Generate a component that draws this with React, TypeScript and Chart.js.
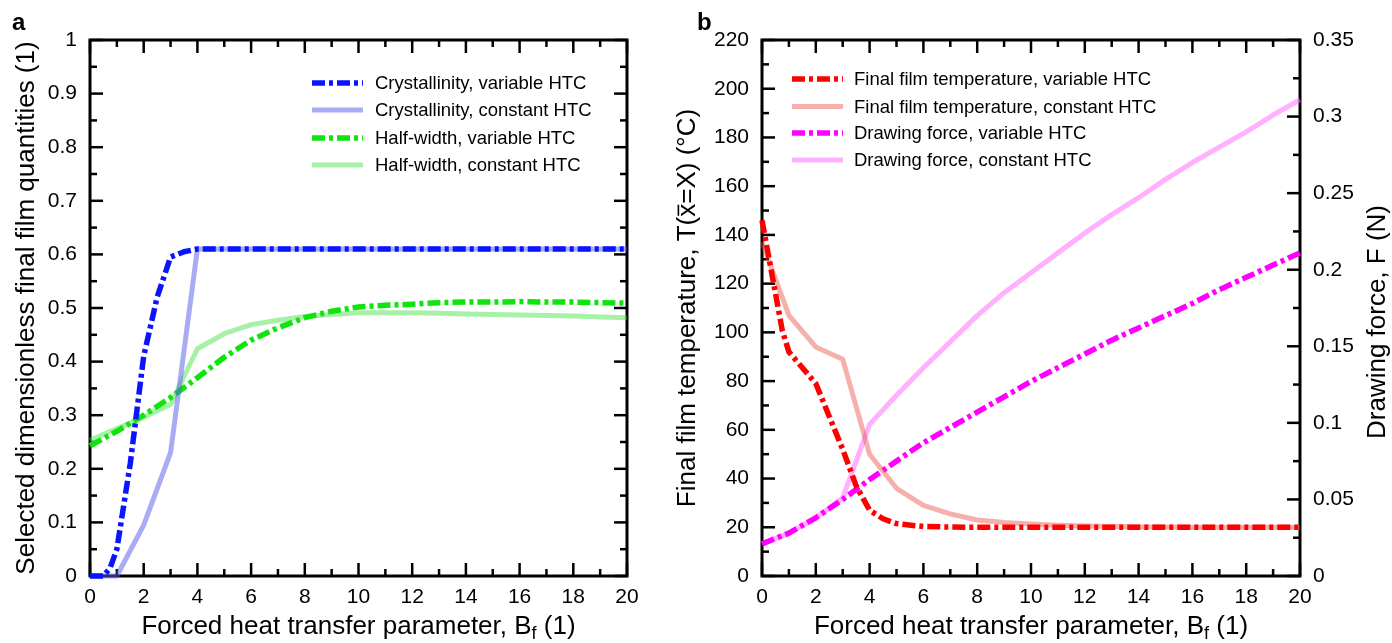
import React, { useEffect, useRef } from "react";
import { Chart, registerables } from "chart.js";

Chart.register(...registerables);

const FONT = "'Liberation Sans', Arial, Helvetica, sans-serif";

// ---------- Panel a data ----------
const crystVarB = [0, 0.5, 0.75, 1, 1.5, 2, 2.5, 3, 3.5, 4, 5, 6, 7, 8, 9, 10, 11, 12, 13, 14, 15, 16, 17, 18, 19, 20];
const crystVar = [0, 0, 0.015, 0.05, 0.21, 0.41, 0.52, 0.595, 0.605, 0.61, 0.61, 0.61, 0.61, 0.61, 0.61, 0.61, 0.61, 0.61, 0.61, 0.61, 0.61, 0.61, 0.61, 0.61, 0.61, 0.61];
const bInt = [0, 1, 2, 3, 4, 5, 6, 7, 8, 9, 10, 11, 12, 13, 14, 15, 16, 17, 18, 19, 20];
const crystConst = [0, 0, 0.095, 0.23, 0.61, 0.61, 0.61, 0.61, 0.61, 0.61, 0.61, 0.61, 0.61, 0.61, 0.61, 0.61, 0.61, 0.61, 0.61, 0.61, 0.61];
const halfVar = [0.243, 0.27, 0.3, 0.333, 0.37, 0.408, 0.44, 0.463, 0.482, 0.494, 0.502, 0.505, 0.507, 0.51, 0.511, 0.511, 0.512, 0.511, 0.511, 0.51, 0.509];
const halfConst = [0.253, 0.275, 0.296, 0.32, 0.424, 0.452, 0.469, 0.477, 0.484, 0.488, 0.491, 0.491, 0.491, 0.49, 0.489, 0.488, 0.487, 0.486, 0.485, 0.483, 0.482];

// ---------- Panel b data ----------
const tempVarB = [0, 0.25, 0.5, 0.75, 1, 1.5, 2, 2.5, 3, 3.5, 4, 4.5, 5, 6, 7, 8, 9, 10, 11, 12, 13, 14, 15, 16, 17, 18, 19, 20];
const tempVar = [146, 131, 116, 101, 92, 85.5, 79, 65.5, 52, 37, 27, 23.5, 21.5, 20.3, 20.1, 20, 20, 20, 20, 20, 20, 20, 20, 20, 20, 20, 20, 20];
const tempConst = [137, 107, 94, 89, 50, 36, 29, 25.5, 23, 22, 21.3, 20.8, 20.5, 20.3, 20.2, 20.1, 20, 20, 20, 20, 20];
const forceVar = [0.021, 0.028, 0.038, 0.05, 0.063, 0.075, 0.087, 0.097, 0.107, 0.117, 0.127, 0.136, 0.145, 0.154, 0.162, 0.17, 0.178, 0.187, 0.195, 0.203, 0.211];
const forceConst = [0.021, 0.028, 0.038, 0.051, 0.099, 0.118, 0.136, 0.153, 0.17, 0.185, 0.198, 0.211, 0.224, 0.236, 0.247, 0.259, 0.27, 0.28, 0.29, 0.301, 0.311];

const labelsA = ["Crystallinity, variable HTC", "Crystallinity, constant HTC", "Half-width, variable HTC", "Half-width, constant HTC"];
const labelsB = ["Final film temperature, variable HTC", "Final film temperature, constant HTC", "Drawing force, variable HTC", "Drawing force, constant HTC"];

const DASH = [13, 4, 4, 4];
const TITLE_SIZE = 26;
const pts = (xs: number[], ys: number[]) => xs.map((x, i) => ({ x, y: ys[i] }));

type Seg = { t: string; size?: number; dy?: number; over?: boolean };

function drawRich(ctx: CanvasRenderingContext2D, segs: Seg[], cx: number, cy: number, rot: number, base: number) {
  ctx.save();
  ctx.translate(cx, cy);
  ctx.rotate(rot);
  ctx.textBaseline = "middle";
  ctx.textAlign = "left";
  ctx.fillStyle = "#000";
  ctx.strokeStyle = "#000";
  let total = 0;
  const ws = segs.map((s) => {
    ctx.font = `${s.size || base}px ${FONT}`;
    const w = ctx.measureText(s.t).width;
    total += w;
    return w;
  });
  let x = -total / 2;
  segs.forEach((s, i) => {
    ctx.font = `${s.size || base}px ${FONT}`;
    ctx.fillText(s.t, x, s.dy || 0);
    if (s.over) {
      ctx.beginPath();
      ctx.lineWidth = 1.6;
      const yy = -base * 0.37;
      ctx.moveTo(x + 1, yy);
      ctx.lineTo(x + ws[i] - 1, yy);
      ctx.stroke();
    }
    x += ws[i];
  });
  ctx.restore();
}

function tickMarks(ctx: CanvasRenderingContext2D, scale: any, step: number, majorEvery: number, horizontal: boolean, edge: number, dir: number) {
  const n = Math.round((scale.max - scale.min) / step);
  for (let i = 0; i <= n; i++) {
    const v = scale.min + i * step;
    const p = scale.getPixelForValue(v);
    const len = i % majorEvery === 0 ? 13 : 7;
    ctx.beginPath();
    if (horizontal) {
      ctx.moveTo(p, edge);
      ctx.lineTo(p, edge + dir * len);
    } else {
      ctx.moveTo(edge, p);
      ctx.lineTo(edge + dir * len, p);
    }
    ctx.stroke();
  }
}

const framePlugin = {
  id: "frameTicks",
  beforeDatasetsDraw(chart: any, _args: any, opts: any) {
    const { ctx, chartArea } = chart;
    const { left, right, top, bottom } = chartArea;
    ctx.save();
    ctx.strokeStyle = "#000";
    ctx.lineWidth = 2.5;
    ctx.setLineDash([]);
    const x = chart.scales.x;
    tickMarks(ctx, x, 1, 2, true, bottom, -1);
    tickMarks(ctx, x, 1, 2, true, top, 1);
    const yl = chart.scales.y;
    tickMarks(ctx, yl, opts.leftStep, 2, false, left, 1);
    const yr = opts.rightId ? chart.scales[opts.rightId] : yl;
    tickMarks(ctx, yr, opts.rightStep, 2, false, right, -1);
    ctx.lineWidth = 3;
    ctx.strokeRect(left, top, right - left, bottom - top);
    ctx.restore();
  },
  afterDraw(chart: any, _args: any, opts: any) {
    const { ctx, chartArea } = chart;
    const { left, right, top, bottom } = chartArea;
    const midX = (left + right) / 2;
    const midY = (top + bottom) / 2;
    // axis titles
    drawRich(ctx, [
      { t: "Forced heat transfer parameter, B" },
      { t: "f", size: 18, dy: 7 },
      { t: " (1)" },
    ], midX, 627, 0, TITLE_SIZE);
    drawRich(ctx, opts.leftTitle, opts.leftTitleX, midY, -Math.PI / 2, TITLE_SIZE);
    if (opts.rightTitle) drawRich(ctx, opts.rightTitle, opts.rightTitleX, opts.rightTitleY, -Math.PI / 2, TITLE_SIZE);
    // panel letter
    ctx.save();
    ctx.font = `bold 24px ${FONT}`;
    ctx.fillStyle = "#000";
    ctx.textBaseline = "alphabetic";
    ctx.textAlign = "left";
    ctx.fillText(opts.letter, opts.letterX, 30);
    ctx.restore();
    // legend
    ctx.save();
    chart.data.datasets.forEach((ds: any, i: number) => {
      const y = opts.legendRows[i];
      ctx.beginPath();
      ctx.strokeStyle = ds.borderColor;
      ctx.lineWidth = ds.borderWidth;
      ctx.setLineDash(ds.borderDash || []);
      ctx.moveTo(opts.legendX0, y);
      ctx.lineTo(opts.legendX1, y);
      ctx.stroke();
      ctx.setLineDash([]);
      ctx.font = `18.5px ${FONT}`;
      ctx.fillStyle = "#000";
      ctx.textBaseline = "middle";
      ctx.textAlign = "left";
      ctx.fillText(ds.label, opts.legendTx, y + 1);
    });
    ctx.restore();
  },
};

const tickFont = { size: 21, family: FONT };

function xScale() {
  return {
    type: "linear",
    min: 0,
    max: 20,
    ticks: { stepSize: 2, font: tickFont, color: "#000", padding: 9, maxRotation: 0, autoSkip: false },
    grid: { display: false, drawTicks: false },
    border: { display: false },
    afterFit: (s: any) => {
      s.height = 67;
    },
  };
}

const fmt = (v: any) => String(Number(Number(v).toFixed(3)));

function lineDs(label: string, data: any[], color: string, dashed: boolean, yAxisID = "y") {
  return {
    label,
    data,
    yAxisID,
    borderColor: color,
    backgroundColor: color,
    borderWidth: dashed ? 5.5 : 5,
    borderDash: dashed ? DASH : [],
    pointRadius: 0,
    fill: false,
    tension: 0,
    clip: 8,
    borderCapStyle: "butt",
    borderJoinStyle: "round",
  };
}

function makeA(canvas: HTMLCanvasElement) {
  const datasets = [
    lineDs(labelsA[0], pts(crystVarB, crystVar), "rgb(10,20,255)", true),
    lineDs(labelsA[1], pts(bInt, crystConst), "rgba(80,90,235,0.5)", false),
    lineDs(labelsA[2], pts(bInt, halfVar), "rgb(15,228,15)", true),
    lineDs(labelsA[3], pts(bInt, halfConst), "rgba(60,225,60,0.45)", false),
  ];
  return new Chart(canvas, {
    type: "line",
    data: { datasets },
    plugins: [framePlugin],
    options: {
      animation: false,
      responsive: false,
      layout: { padding: { left: 0, top: 40, right: 43, bottom: 0 } },
      plugins: {
        legend: { display: false },
        tooltip: { enabled: false },
        frameTicks: {
          leftStep: 0.05,
          rightStep: 0.05,
          leftTitle: [{ t: "Selected dimensionless final film quantities (1)" }],
          leftTitleX: 27,
          letter: "a",
          letterX: 12,
          legendRows: [83, 110, 138, 165],
          legendX0: 312,
          legendX1: 363,
          legendTx: 375,
        },
      },
      scales: {
        x: xScale(),
        y: {
          type: "linear",
          min: 0,
          max: 1,
          ticks: { stepSize: 0.1, font: tickFont, color: "#000", padding: 13, callback: fmt },
          grid: { display: false, drawTicks: false },
          border: { display: false },
          afterFit: (s: any) => {
            s.width = 90;
          },
        },
      },
    },
  } as any);
}

function makeB(canvas: HTMLCanvasElement) {
  const datasets = [
    lineDs(labelsB[0], pts(tempVarB, tempVar), "rgb(255,0,0)", true),
    lineDs(labelsB[1], pts(bInt, tempConst), "rgba(235,80,70,0.45)", false),
    lineDs(labelsB[2], pts(bInt, forceVar), "rgb(255,0,255)", true, "y1"),
    lineDs(labelsB[3], pts(bInt, forceConst), "rgba(255,100,255,0.5)", false, "y1"),
  ];
  return new Chart(canvas, {
    type: "line",
    data: { datasets },
    plugins: [framePlugin],
    options: {
      animation: false,
      responsive: false,
      layout: { padding: { left: 0, top: 40, right: 0, bottom: 0 } },
      plugins: {
        legend: { display: false },
        tooltip: { enabled: false },
        frameTicks: {
          leftStep: 10,
          rightStep: 0.025,
          rightId: "y1",
          leftTitle: [
            { t: "Final film temperature, T(" },
            { t: "x", over: true },
            { t: "=X) (°C)" },
          ],
          leftTitleX: 18,
          rightTitle: [{ t: "Drawing force, F (N)" }],
          rightTitleX: 708,
          rightTitleY: 322,
          letter: "b",
          letterX: 27,
          legendRows: [79, 106.5, 133, 160],
          legendX0: 122,
          legendX1: 173,
          legendTx: 184,
        },
      },
      scales: {
        x: xScale(),
        y: {
          type: "linear",
          position: "left",
          min: 0,
          max: 220,
          ticks: { stepSize: 20, font: tickFont, color: "#000", padding: 13, callback: fmt },
          grid: { display: false, drawTicks: false },
          border: { display: false },
          afterFit: (s: any) => {
            s.width = 92;
          },
        },
        y1: {
          type: "linear",
          position: "right",
          min: 0,
          max: 0.35,
          ticks: { stepSize: 0.05, font: tickFont, color: "#000", padding: 13, callback: fmt },
          grid: { display: false, drawTicks: false },
          border: { display: false },
          afterFit: (s: any) => {
            s.width = 92;
          },
        },
      },
    },
  } as any);
}

export default function App() {
  const refA = useRef<HTMLCanvasElement>(null);
  const refB = useRef<HTMLCanvasElement>(null);
  useEffect(() => {
    Chart.defaults.color = "#000";
    Chart.defaults.font.family = FONT;
    const a = makeA(refA.current!);
    const b = makeB(refB.current!);
    return () => {
      a.destroy();
      b.destroy();
    };
  }, []);
  return (
    <div style={{ position: "absolute", left: 0, top: 0, width: 1392, height: 643, background: "#fff", overflow: "hidden" }}>
      <canvas ref={refA} width={670} height={643} style={{ position: "absolute", left: 0, top: 0, width: 670, height: 643 }} />
      <canvas ref={refB} width={722} height={643} style={{ position: "absolute", left: 670, top: 0, width: 722, height: 643 }} />
    </div>
  );
}
